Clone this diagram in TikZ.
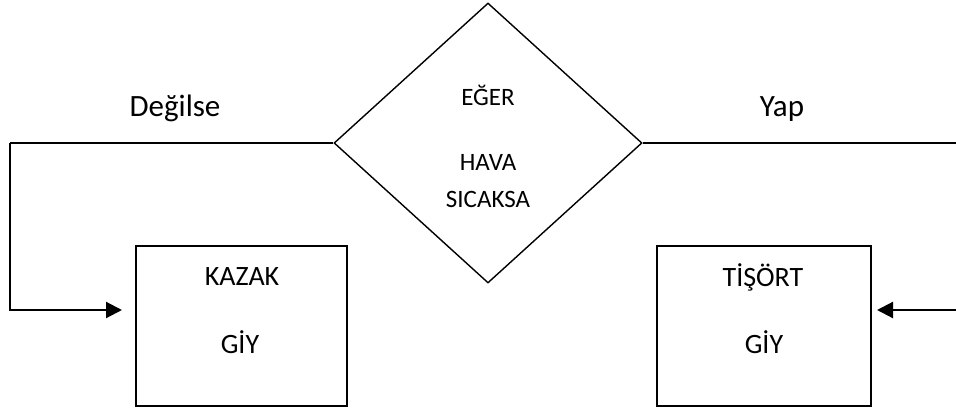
\documentclass[tikz,border=0pt]{standalone}
\usepackage{fontspec}
\setmainfont{Carlito}
\usetikzlibrary{shapes.geometric,arrows.meta}

\begin{document}
\begin{tikzpicture}
  [x=1pt,y=1pt,
   box/.style={draw,line width=1.6pt,minimum width=211pt,minimum height=160pt,inner sep=0pt},
   cond/.style={draw,diamond,line width=1.4pt,minimum width=308pt,minimum height=280pt,inner sep=0pt},
   txt/.style={anchor=base,inner sep=0pt,font=\fontsize{28}{30}\selectfont},
   dtxt/.style={anchor=base,inner sep=0pt,font=\fontsize{25}{27}\selectfont},
   lbl/.style={anchor=base,inner sep=0pt,font=\fontsize{31}{33}\selectfont},
   flow/.style={line width=1.6pt},
   arr/.style={line width=2.2pt,-{Triangle[length=16pt,width=16pt]}}]
  \useasboundingbox (0,0) rectangle (956,408);

  \node[cond] (if) at (488,265) {};
  \node[box] (kazak) at (241.5,82) {};
  \node[box,minimum width=214pt] (tisort) at (764,82) {};

  \node[dtxt] (if1) at (488,302) {EĞER};
  \node[dtxt] (if2) at (488,238) {HAVA};
  \node[dtxt] (if3) at (488,201) {SICAKSA};
  \node[txt] (kazak1) at (242,123) {KAZAK};
  \node[txt] (kazak2) at (240,55) {GİY};
  \node[txt] (tisort1) at (763,122) {TİŞÖRT};
  \node[txt] (tisort2) at (764,55) {GİY};
  \node[lbl] (no) at (175,292) {Değilse};
  \node[lbl] (yes) at (782,292) {Yap};

  \coordinate (lup) at (10,265);
  \coordinate (ldown) at (10,98);
  \coordinate (lend) at (122,98);
  \coordinate (rup) at (962,265);
  \coordinate (rdown) at (962,98);
  \coordinate (rend) at (877,98);

  \draw[flow] (if.west) -- (lup);
  \draw[arr] (lup) -- (ldown) -- (lend);
  \draw[flow] (if.east) -- (rup);
  \draw[arr] (rup) -- (rdown) -- (rend);

\end{tikzpicture}
\end{document}
